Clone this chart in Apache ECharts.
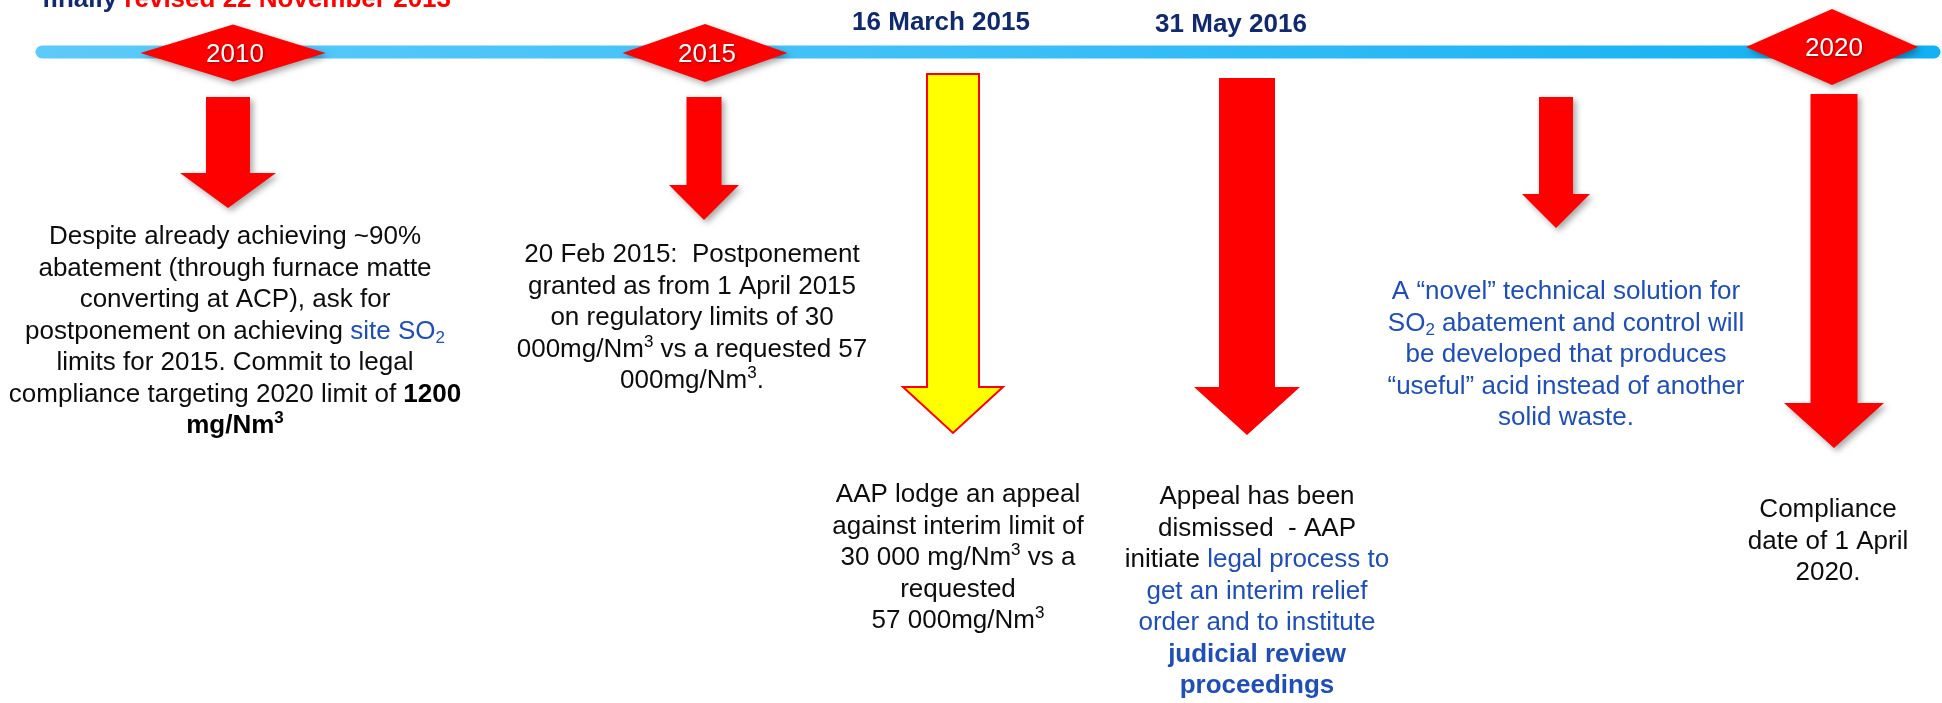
<!DOCTYPE html>
<html>
<head>
<meta charset="utf-8">
<script src="https://cdn.jsdelivr.net/npm/echarts@6.0.0/dist/echarts.min.js"></script>
<style>
  html, body { margin: 0; padding: 0; background: #fff; }
  #main { width: 1942px; height: 703px; }
</style>
</head>
<body>
<div id="main"></div>
<script>
// timeline milestones (diamonds on the bar)
var milestoneYears = ['2010', '2015', '2020'];
var milestoneAt = [233, 705, 1832];

// dated headings above the bar
var eventDates = ['16 March 2015', '31 May 2016'];
var eventDateAt = [941, 1231];

// down arrows: position on the timeline, start and tip depth
var arrowAt = [228, 704, 953, 1247, 1556, 1834];
var arrowFrom = [97, 97, 74, 78, 97, 94];
var arrowTo = [208, 220, 433, 435, 228, 448];

// note texts under the arrows
var notes = [
  ['Despite already achieving ~90%',
   'abatement (through furnace matte',
   'converting at ACP), ask for',
   'postponement on achieving {blue|site SO}{bsub|2}',
   'limits for 2015. Commit to legal',
   'compliance targeting 2020 limit of {bold|1200}',
   '{bold|mg/Nm}{boldsup|3}'],
  ['20 Feb 2015:  Postponement',
   'granted as from 1 April 2015',
   'on regulatory limits of 30',
   '000mg/Nm{sup|3} vs a requested 57',
   '000mg/Nm{sup|3}.'],
  ['AAP lodge an appeal',
   'against interim limit of',
   '30 000 mg/Nm{sup|3} vs a',
   'requested',
   '57 000mg/Nm{sup|3}'],
  ['Appeal has been',
   'dismissed  - AAP',
   'initiate {blue|legal process to}',
   '{blue|get an interim relief}',
   '{blue|order and to institute}',
   '{bluebold|judicial review}',
   '{bluebold|proceedings}'],
  ['{blue|A \u201cnovel\u201d technical solution for}',
   '{blue|SO}{bsub|2}{blue| abatement and control will}',
   '{blue|be developed that produces}',
   '{blue|\u201cuseful\u201d acid instead of another}',
   '{blue|solid waste.}'],
  ['Compliance',
   'date of 1 April',
   '2020.']
];
var noteAt = [235, 692, 958, 1257, 1566, 1828];
var noteRow = [237, 255, 495, 497, 292, 510];

// title fragments (top edge, mostly cut off)
var titleParts = ['finally', 'revised 22 November 2013'];

var FONT = '"Liberation Sans", Arial, Helvetica, sans-serif';
var NAVY = '#112a6e';
var BLUE = '#1f4fb5';
var RED = '#ff0000';
var LH = 31.5;

// styles
var diamondW = [185, 165, 172];
var diamondH = [57, 58, 76];
var diamondY = [53, 53, 47];
var shaftW = [44, 35, 52, 56, 34, 47];
var headW = [96, 70, 100, 106, 68, 100];
var headD = [35, 35, 46, 48, 34, 45];
var arrowFill = [RED, RED, '#ffff00', RED, RED, RED];
var arrowShadow = [true, true, false, false, true, true];

function rs(size, weight, color, extra) {
  var o = { fontFamily: FONT, fontSize: size, fontWeight: weight || 'normal', fill: color, lineHeight: size === 26 ? LH : size };
  if (extra) for (var k in extra) o[k] = extra[k];
  return o;
}

var rich = {
  blue: rs(26, 'normal', BLUE),
  bold: rs(26, 'bold', '#000'),
  bluebold: rs(26, 'bold', BLUE),
  bsub: rs(17, 'normal', BLUE, { verticalAlign: 'bottom' }),
  sup: rs(17, 'normal', '#000', { verticalAlign: 'top' }),
  boldsup: rs(17, 'bold', '#000', { verticalAlign: 'top' })
};

var chart = echarts.init(document.getElementById('main'), null, { renderer: 'canvas' });

chart.setOption({
  animation: false,
  backgroundColor: '#fff',
  grid: { left: 0, right: 0, top: 0, bottom: 0 },
  xAxis: { type: 'value', min: 0, max: 1942, show: false },
  yAxis: { type: 'value', min: 0, max: 703, inverse: true, show: false },
  series: [
    {
      // blue timeline bar
      type: 'custom',
      z: 1,
      data: [[42, 1934, 52]],
      renderItem: function (params, api) {
        var a = api.coord([api.value(0), api.value(2)]);
        var b = api.coord([api.value(1), api.value(2)]);
        return {
          type: 'line',
          shape: { x1: a[0], y1: a[1], x2: b[0], y2: b[1] },
          style: {
            lineWidth: 13,
            lineCap: 'round',
            stroke: new echarts.graphic.LinearGradient(0, 0, 1, 0, [
              { offset: 0, color: '#5ccafa' },
              { offset: 0.5, color: '#3cbff7' },
              { offset: 1, color: '#12b0f4' }
            ])
          }
        };
      }
    },
    {
      // down arrows
      type: 'custom',
      z: 2,
      data: arrowAt.map(function (x, i) { return [x, arrowFrom[i], arrowTo[i]]; }),
      renderItem: function (params, api) {
        var i = params.dataIndex;
        var c = api.value(0), t = api.value(1), p = api.value(2);
        var s = shaftW[i] / 2, hw = headW[i] / 2, h = p - headD[i];
        var pts = [[c - s, t], [c + s, t], [c + s, h], [c + hw, h], [c, p], [c - hw, h], [c - s, h]]
          .map(function (d) { return api.coord(d); });
        var style = { fill: arrowFill[i] };
        if (arrowFill[i] !== RED) { style.stroke = RED; style.lineWidth = 2; }
        if (arrowShadow[i]) {
          style.shadowBlur = 6; style.shadowOffsetX = 3; style.shadowOffsetY = 3;
          style.shadowColor = 'rgba(0,0,0,0.35)';
        }
        return { type: 'polygon', shape: { points: pts }, style: style };
      }
    },
    {
      // milestone diamonds
      type: 'custom',
      z: 3,
      data: milestoneAt.map(function (x, i) { return [x, diamondY[i], milestoneYears[i]]; }),
      renderItem: function (params, api) {
        var i = params.dataIndex;
        var cx = api.value(0), cy = api.value(1);
        var w = diamondW[i] / 2, h = diamondH[i] / 2;
        var pts = [[cx - w, cy], [cx, cy - h], [cx + w, cy], [cx, cy + h]]
          .map(function (d) { return api.coord(d); });
        var cp = api.coord([cx + 2, cy + 2]);
        return {
          type: 'group',
          children: [
            {
              type: 'polygon', shape: { points: pts },
              style: { fill: RED, shadowBlur: 6, shadowOffsetX: 3, shadowOffsetY: 3, shadowColor: 'rgba(0,0,0,0.35)' }
            },
            {
              type: 'text', x: cp[0], y: cp[1],
              style: {
                text: milestoneYears[i], fill: '#fff', fontFamily: FONT, fontSize: 26,
                align: 'center', verticalAlign: 'middle',
                textShadowBlur: 3, textShadowColor: 'rgba(0,0,0,0.45)', textShadowOffsetX: 1, textShadowOffsetY: 1
              }
            }
          ]
        };
      }
    },
    {
      // dated headings
      type: 'custom',
      z: 3,
      data: eventDateAt.map(function (x, i) { return [x, i === 0 ? 23 : 25]; }),
      renderItem: function (params, api) {
        var p = api.coord([api.value(0), api.value(1)]);
        return {
          type: 'text', x: p[0], y: p[1],
          style: {
            text: eventDates[params.dataIndex], fill: NAVY, fontFamily: FONT,
            fontSize: 26, fontWeight: 'bold', align: 'center', verticalAlign: 'middle'
          }
        };
      }
    },
    {
      // title (cut off at the top)
      type: 'custom',
      z: 3,
      data: [[42, 0]],
      renderItem: function (params, api) {
        var p = api.coord([api.value(0), api.value(1)]);
        return {
          type: 'text', x: p[0], y: p[1],
          style: {
            text: '{n|' + titleParts[0] + '} {r|' + titleParts[1] + '}',
            fontFamily: FONT, fontSize: 26, fontWeight: 'bold', fill: NAVY,
            align: 'left', verticalAlign: 'middle',
            rich: {
              n: { fontFamily: FONT, fontSize: 26, fontWeight: 'bold', fill: NAVY },
              r: { fontFamily: FONT, fontSize: 26, fontWeight: 'bold', fill: RED }
            }
          }
        };
      }
    },
    {
      // note blocks
      type: 'custom',
      z: 3,
      data: noteAt.map(function (x, i) { return [x, noteRow[i] - LH / 2]; }),
      renderItem: function (params, api) {
        var i = params.dataIndex;
        var p = api.coord([api.value(0), api.value(1)]);
        return {
          type: 'text', x: p[0], y: p[1],
          style: {
            text: notes[i].join('\n'),
            fontFamily: FONT, fontSize: 26, lineHeight: LH,
            fill: i === 4 ? BLUE : '#0d0d0d',
            align: 'center', verticalAlign: 'top',
            rich: rich
          }
        };
      }
    }
  ]
});
</script>
</body>
</html>
